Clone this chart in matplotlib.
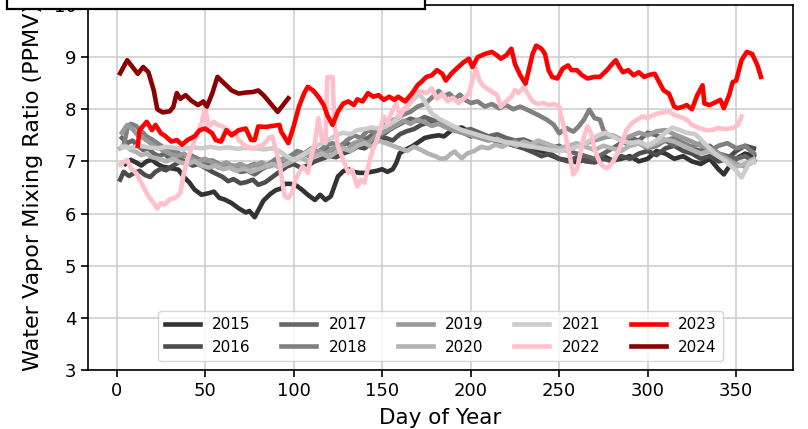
import matplotlib
matplotlib.use("Agg")
import matplotlib.pyplot as plt
from matplotlib.patches import Rectangle

# (day of year, water vapor mixing ratio in ppmv), smoothed daily series
y2015 = [(5, 6.95), (8, 7.03), (11, 6.98), (14, 6.92), (17, 7.00), (20, 7.03), (23, 6.95), (26, 6.90),
         (29, 6.88), (32, 6.86), (35, 6.84), (38, 6.70), (41, 6.60), (44, 6.46), (48, 6.36), (52, 6.39),
         (55, 6.42), (58, 6.30), (61, 6.27), (65, 6.20), (69, 6.10), (73, 6.02), (75, 6.05), (78, 5.93),
         (80, 6.06), (83, 6.25), (87, 6.38), (90, 6.45), (93, 6.48), (95, 6.57), (98, 6.57), (101, 6.55),
         (105, 6.45), (108, 6.36), (112, 6.26), (115, 6.36), (118, 6.26), (121, 6.33), (123, 6.52),
         (125, 6.71), (128, 6.81), (131, 6.85), (134, 6.80), (137, 6.78), (140, 6.78), (144, 6.80),
         (147, 6.82), (150, 6.85), (153, 6.80), (156, 6.85), (158, 6.97), (160, 7.16), (163, 7.22),
         (167, 7.29), (171, 7.38), (174, 7.45), (178, 7.48), (182, 7.50), (185, 7.48), (190, 7.62),
         (195, 7.65), (200, 7.55), (205, 7.50), (210, 7.45), (215, 7.40), (220, 7.38), (225, 7.30),
         (230, 7.32), (235, 7.25), (240, 7.20), (245, 7.12), (250, 7.05), (255, 7.02), (260, 6.98),
         (265, 7.05), (270, 7.00), (275, 7.10), (280, 7.02), (285, 7.05), (290, 7.10), (295, 7.00),
         (300, 7.05), (305, 7.20), (310, 7.15), (315, 7.05), (320, 7.10), (325, 7.00), (330, 6.95),
         (335, 7.05), (340, 6.85), (343, 6.75), (346, 6.90), (350, 7.05), (355, 7.15), (360, 7.10)]

y2016 = [(2, 6.65), (4, 6.80), (7, 6.72), (10, 6.78), (13, 6.82), (16, 6.74), (19, 6.70), (22, 6.80),
         (25, 6.86), (28, 6.83), (31, 6.90), (34, 6.96), (37, 7.02), (40, 6.98), (43, 6.92), (46, 6.95),
         (50, 6.88), (54, 6.80), (57, 6.75), (60, 6.70), (63, 6.62), (66, 6.66), (70, 6.58), (73, 6.60),
         (77, 6.65), (80, 6.55), (84, 6.60), (88, 6.70), (92, 6.80), (96, 6.90), (100, 6.95), (104, 6.88),
         (108, 6.92), (112, 7.00), (116, 7.05), (120, 7.10), (124, 7.08), (128, 7.15), (132, 7.20),
         (136, 7.28), (140, 7.25), (144, 7.35), (148, 7.40), (152, 7.45), (156, 7.40), (160, 7.52),
         (164, 7.58), (168, 7.62), (172, 7.70), (176, 7.75), (180, 7.78), (184, 7.72), (188, 7.66),
         (192, 7.60), (196, 7.55), (200, 7.48), (205, 7.52), (210, 7.45), (215, 7.38), (220, 7.35),
         (225, 7.30), (230, 7.25), (235, 7.18), (240, 7.10), (245, 7.15), (250, 7.05), (255, 7.00),
         (260, 7.08), (265, 7.00), (270, 6.98), (275, 7.05), (280, 7.00), (285, 7.10), (290, 7.05),
         (295, 7.15), (300, 7.20), (305, 7.12), (310, 7.25), (315, 7.30), (320, 7.20), (325, 7.15),
         (330, 7.05), (335, 7.10), (340, 7.00), (345, 7.05), (350, 7.20), (355, 7.30), (360, 7.25)]

y2017 = [(3, 7.45), (6, 7.35), (9, 7.40), (12, 7.30), (15, 7.22), (18, 7.25), (21, 7.15), (24, 7.10),
         (27, 7.15), (30, 7.05), (34, 7.08), (38, 7.00), (42, 6.95), (46, 7.02), (50, 6.92), (54, 6.95),
         (58, 6.88), (62, 6.92), (66, 6.85), (70, 6.80), (74, 6.82), (78, 6.75), (82, 6.85), (86, 6.92),
         (90, 6.98), (94, 7.05), (98, 7.00), (102, 7.10), (106, 7.15), (110, 7.08), (114, 7.18),
         (118, 7.25), (122, 7.20), (126, 7.30), (130, 7.35), (134, 7.28), (138, 7.40), (142, 7.45),
         (146, 7.55), (150, 7.50), (154, 7.60), (158, 7.68), (162, 7.75), (166, 7.82), (170, 7.78),
         (174, 7.85), (178, 7.80), (182, 7.72), (186, 7.70), (190, 7.65), (195, 7.58), (200, 7.62),
         (205, 7.55), (210, 7.48), (215, 7.52), (220, 7.45), (225, 7.40), (230, 7.42), (235, 7.35),
         (240, 7.30), (245, 7.25), (250, 7.30), (255, 7.20), (260, 7.15), (265, 7.10), (270, 7.05),
         (275, 7.15), (280, 7.25), (285, 7.35), (290, 7.45), (295, 7.40), (300, 7.55), (305, 7.50),
         (310, 7.40), (315, 7.30), (320, 7.35), (325, 7.25), (330, 7.20), (335, 7.30), (340, 7.15),
         (345, 7.10), (350, 7.05), (355, 7.10), (360, 7.00)]

y2018 = [(4, 7.30), (6, 7.62), (8, 7.72), (11, 7.68), (14, 7.58), (17, 7.48), (20, 7.42), (23, 7.35),
         (26, 7.28), (30, 7.22), (34, 7.18), (38, 7.10), (42, 7.12), (46, 7.05), (50, 7.00), (54, 7.02),
         (58, 6.95), (62, 6.90), (66, 6.92), (70, 6.85), (74, 6.90), (78, 6.95), (82, 6.88), (86, 6.95),
         (90, 7.05), (94, 7.00), (98, 7.10), (102, 7.20), (106, 7.15), (110, 7.25), (114, 7.18),
         (118, 7.30), (122, 7.35), (126, 7.28), (130, 7.40), (134, 7.50), (138, 7.45), (142, 7.60),
         (146, 7.55), (150, 7.68), (154, 7.75), (158, 7.82), (162, 7.90), (166, 7.95), (170, 8.05),
         (174, 8.10), (178, 8.22), (182, 8.35), (185, 8.25), (188, 8.30), (191, 8.20), (194, 8.28),
         (197, 8.18), (200, 8.12), (204, 8.15), (208, 8.05), (212, 8.10), (216, 8.02), (220, 8.08),
         (224, 8.00), (228, 8.05), (232, 7.99), (238, 7.89), (243, 7.80), (247, 7.70), (250, 7.54),
         (254, 7.64), (258, 7.57), (261, 7.67), (264, 7.80), (267, 7.99), (270, 7.83), (273, 7.80),
         (275, 7.60), (278, 7.48), (281, 7.48), (285, 7.40), (290, 7.30), (295, 7.35), (300, 7.25),
         (305, 7.30), (310, 7.40), (315, 7.45), (320, 7.35), (325, 7.28), (330, 7.35), (335, 7.20),
         (340, 7.30), (345, 7.35), (350, 7.25), (355, 7.30), (360, 7.15)]

y2019 = [(3, 7.55), (6, 7.70), (9, 7.62), (12, 7.50), (15, 7.45), (18, 7.38), (21, 7.30), (24, 7.25),
         (27, 7.20), (30, 7.15), (34, 7.10), (38, 7.15), (42, 7.05), (46, 7.00), (50, 7.05), (54, 6.98),
         (58, 6.92), (62, 6.98), (66, 6.90), (70, 6.95), (74, 6.88), (78, 6.92), (82, 6.98), (86, 6.90),
         (90, 6.95), (94, 7.05), (98, 7.00), (102, 7.08), (106, 7.15), (110, 7.10), (114, 7.20),
         (118, 7.15), (122, 7.25), (126, 7.30), (130, 7.22), (134, 7.35), (138, 7.40), (142, 7.35),
         (146, 7.48), (150, 7.55), (154, 7.62), (158, 7.70), (162, 7.78), (166, 7.72), (170, 7.80),
         (174, 7.75), (178, 7.68), (182, 7.72), (186, 7.65), (190, 7.60), (195, 7.55), (200, 7.50),
         (205, 7.45), (210, 7.40), (215, 7.42), (220, 7.35), (225, 7.38), (230, 7.30), (235, 7.28),
         (240, 7.32), (245, 7.25), (250, 7.20), (255, 7.25), (260, 7.30), (265, 7.35), (270, 7.40),
         (275, 7.45), (280, 7.50), (285, 7.42), (290, 7.48), (295, 7.55), (300, 7.50), (305, 7.58),
         (310, 7.60), (315, 7.52), (320, 7.45), (325, 7.38), (330, 7.30), (335, 7.25), (340, 7.15),
         (345, 7.05), (350, 6.95), (355, 6.90), (360, 7.00)]

y2020 = [(2, 7.25), (5, 7.30), (8, 7.22), (11, 7.18), (14, 7.12), (17, 7.15), (20, 7.08), (24, 7.05),
         (28, 7.00), (32, 7.05), (36, 6.98), (40, 6.95), (44, 7.00), (48, 6.92), (52, 6.88), (56, 6.92),
         (60, 6.85), (64, 6.88), (68, 6.82), (72, 6.86), (76, 6.80), (80, 6.85), (84, 6.90), (88, 6.95),
         (92, 6.88), (96, 6.95), (100, 7.02), (104, 7.08), (108, 7.00), (112, 7.10), (116, 7.15),
         (120, 7.08), (124, 7.18), (128, 7.25), (132, 7.20), (136, 7.30), (140, 7.35), (144, 7.28),
         (148, 7.40), (152, 7.35), (156, 7.30), (160, 7.25), (164, 7.20), (168, 7.28), (172, 7.22),
         (176, 7.15), (180, 7.10), (183, 7.05), (186, 7.06), (189, 7.15), (191, 7.19), (193, 7.12),
         (195, 7.06), (198, 7.15), (202, 7.20), (206, 7.28), (210, 7.25), (214, 7.32), (218, 7.28),
         (222, 7.35), (226, 7.30), (230, 7.38), (234, 7.32), (238, 7.40), (242, 7.35), (246, 7.30),
         (250, 7.25), (255, 7.30), (260, 7.35), (265, 7.28), (270, 7.22), (275, 7.30), (280, 7.25),
         (285, 7.20), (290, 7.30), (295, 7.35), (300, 7.28), (305, 7.35), (310, 7.42), (315, 7.38),
         (320, 7.30), (325, 7.22), (330, 7.15), (335, 7.20), (340, 7.10), (345, 7.02), (350, 6.90),
         (355, 6.95), (360, 7.05)]

y2021 = [(3, 7.28), (8, 7.26), (13, 7.30), (18, 7.27), (23, 7.25), (28, 7.28), (33, 7.26), (38, 7.24),
         (43, 7.27), (48, 7.25), (53, 7.28), (58, 7.25), (63, 7.27), (68, 7.24), (73, 7.26), (78, 7.25),
         (83, 7.23), (88, 7.25), (92, 7.20), (96, 7.10), (100, 7.03), (104, 7.10), (108, 7.18),
         (112, 7.28), (116, 7.35), (120, 7.42), (124, 7.50), (128, 7.55), (132, 7.52), (136, 7.60),
         (140, 7.62), (144, 7.65), (148, 7.63), (152, 7.67), (156, 7.75), (160, 7.90), (164, 8.05),
         (168, 8.20), (171, 8.30), (174, 8.15), (178, 7.92), (182, 7.82), (186, 7.75), (190, 7.68),
         (195, 7.60), (200, 7.55), (205, 7.50), (210, 7.45), (215, 7.41), (220, 7.37), (225, 7.34),
         (230, 7.31), (235, 7.28), (240, 7.25), (245, 7.22), (250, 7.20), (255, 7.22), (260, 7.28),
         (265, 7.35), (268, 7.42), (272, 7.50), (276, 7.55), (280, 7.48), (285, 7.40), (290, 7.35),
         (295, 7.38), (300, 7.30), (305, 7.40), (310, 7.55), (314, 7.65), (318, 7.60), (322, 7.55),
         (327, 7.52), (332, 7.35), (338, 7.15), (344, 7.00), (350, 6.82), (353, 6.69), (357, 6.95),
         (360, 7.00)]

y2022 = [(2, 6.94), (6, 7.03), (8, 6.87), (11, 6.78), (15, 6.52), (18, 6.33), (21, 6.20), (23, 6.10),
         (25, 6.20), (27, 6.17), (30, 6.27), (33, 6.30), (36, 6.39), (38, 6.78), (40, 7.03), (42, 7.22),
         (45, 7.48), (48, 7.73), (50, 8.05), (52, 7.67), (55, 7.76), (57, 7.70), (60, 7.67), (63, 7.60),
         (67, 7.54), (69, 7.41), (73, 7.29), (77, 7.25), (80, 7.29), (83, 7.32), (86, 7.45), (88, 7.48),
         (90, 7.22), (92, 6.97), (94, 6.52), (95, 6.33), (97, 6.30), (99, 6.39), (101, 6.65), (103, 6.78),
         (105, 6.90), (107, 6.84), (108, 6.78), (110, 7.10), (112, 7.35), (114, 7.83), (116, 7.41),
         (118, 7.35), (119, 8.62), (122, 8.62), (123, 7.73), (125, 7.29), (128, 7.03), (131, 6.78),
         (133, 6.84), (136, 6.52), (138, 6.65), (140, 6.59), (143, 7.03), (145, 7.25), (147, 7.41),
         (149, 7.63), (151, 7.86), (153, 7.73), (156, 7.99), (158, 8.11), (160, 7.86), (162, 7.99),
         (166, 8.15), (169, 8.31), (172, 8.34), (175, 8.31), (178, 8.40), (181, 8.20), (184, 8.30),
         (187, 8.15), (190, 8.22), (193, 8.12), (196, 8.20), (199, 8.30), (201, 8.55), (203, 8.78),
         (205, 8.55), (207, 8.45), (209, 8.40), (212, 8.34), (215, 8.27), (217, 8.05), (220, 8.15),
         (223, 8.24), (225, 8.37), (227, 8.31), (230, 8.43), (232, 8.31), (235, 8.15), (238, 8.10),
         (241, 8.12), (244, 8.08), (247, 8.10), (250, 8.05), (253, 7.60), (256, 7.10), (258, 6.75),
         (260, 6.84), (262, 7.16), (264, 7.48), (266, 7.67), (268, 7.54), (270, 7.22), (273, 6.97),
         (275, 6.90), (277, 6.87), (280, 6.97), (283, 7.16), (286, 7.41), (288, 7.60), (291, 7.73),
         (294, 7.80), (297, 7.86), (300, 7.83), (303, 7.89), (306, 7.92), (309, 7.94), (312, 7.96),
         (315, 7.89), (318, 7.86), (322, 7.80), (325, 7.70), (329, 7.64), (333, 7.60), (336, 7.60),
         (340, 7.64), (344, 7.62), (348, 7.64), (351, 7.70), (353, 7.86)]

y2023 = [(12, 7.30), (13, 7.60), (17, 7.76), (20, 7.60), (22, 7.70), (25, 7.54), (27, 7.50), (31, 7.38),
         (34, 7.41), (37, 7.32), (40, 7.41), (44, 7.48), (47, 7.60), (50, 7.63), (54, 7.54), (56, 7.41),
         (59, 7.38), (62, 7.60), (65, 7.50), (69, 7.60), (73, 7.63), (76, 7.41), (78, 7.41), (80, 7.67),
         (84, 7.66), (88, 7.68), (92, 7.70), (93, 7.57), (97, 7.35), (100, 7.67), (103, 8.05),
         (106, 8.31), (108, 8.43), (111, 8.36), (114, 8.24), (117, 8.08), (119, 7.89), (122, 7.70),
         (125, 7.95), (128, 8.11), (131, 8.15), (134, 8.08), (136, 8.19), (139, 8.15), (142, 8.31),
         (145, 8.24), (148, 8.27), (151, 8.18), (154, 8.24), (157, 8.18), (159, 8.24), (163, 8.15),
         (167, 8.31), (170, 8.46), (172, 8.52), (175, 8.62), (178, 8.65), (181, 8.75), (184, 8.68),
         (186, 8.55), (189, 8.68), (193, 8.81), (196, 8.90), (199, 8.97), (201, 8.81), (204, 9.00),
         (208, 9.06), (212, 9.10), (215, 9.03), (217, 8.97), (220, 9.03), (223, 9.16), (225, 8.87),
         (228, 8.65), (231, 8.49), (235, 9.06), (237, 9.22), (240, 9.16), (242, 9.06), (244, 8.75),
         (246, 8.62), (249, 8.59), (252, 8.78), (255, 8.84), (257, 8.75), (260, 8.75), (263, 8.65),
         (266, 8.59), (270, 8.62), (273, 8.62), (277, 8.75), (280, 8.87), (282, 8.94), (284, 8.81),
         (286, 8.71), (289, 8.75), (292, 8.65), (295, 8.71), (298, 8.62), (301, 8.66), (304, 8.68),
         (306, 8.55), (309, 8.36), (312, 8.30), (315, 8.05), (317, 8.02), (320, 8.05), (322, 8.08),
         (325, 8.00), (328, 8.27), (331, 8.46), (332, 8.11), (335, 8.08), (338, 8.13), (341, 8.18),
         (343, 8.02), (346, 8.27), (348, 8.52), (350, 8.55), (353, 8.94), (356, 9.10), (359, 9.06),
         (362, 8.84), (364, 8.62)]

y2024 = [(2, 8.69), (6, 8.94), (9, 8.81), (12, 8.68), (15, 8.81), (18, 8.71), (21, 8.36), (23, 8.00),
         (26, 7.94), (30, 7.96), (32, 8.04), (34, 8.31), (36, 8.20), (39, 8.27), (42, 8.17), (46, 8.08),
         (49, 8.15), (51, 8.05), (54, 8.30), (57, 8.62), (61, 8.49), (65, 8.36), (69, 8.30), (73, 8.32),
         (77, 8.33), (80, 8.36), (83, 8.27), (87, 8.11), (91, 7.95), (94, 8.08), (97, 8.21)]

years = ["2015", "2016", "2017", "2018", "2019", "2020", "2021", "2022", "2023", "2024"]
series = [y2015, y2016, y2017, y2018, y2019, y2020, y2021, y2022, y2023, y2024]
colors = ["#333333", "#4d4d4d", "#666666", "#808080", "#999999", "#b3b3b3", "#cccccc",
          "pink", "red", "darkred"]

fig = plt.figure(figsize=(8.08, 4.29), dpi=100)
ax = fig.add_axes([0.109, 0.1375, 0.8725, 0.851])

for year, data, col in zip(years, series, colors):
    days = [d for d, _ in data]
    vals = [v for _, v in data]
    ax.plot(days, vals, color=col, lw=3.3, label=year)

ax.set_ylim(3, 10)
ax.set_xticks(range(0, 351, 50))
ax.grid(True, color="#cccccc", lw=1.1)
ax.tick_params(labelsize=13, length=5, width=1.2)
for sp in ax.spines.values():
    sp.set_linewidth(1.2)

ax.set_xlabel("Day of Year", fontsize=15.5, labelpad=6)
ax.set_ylabel("Water Vapor Mixing Ratio (PPMV)", fontsize=16, labelpad=8)

ax.legend(loc="lower center", ncol=5, fontsize=11, handlelength=2.3,
          columnspacing=2.0, borderaxespad=0.6)

# boxed header strip across the top-left corner
fig.patches.append(Rectangle((7 / 808, 1 - 9 / 429), 418 / 808, 0.2,
                             transform=fig.transFigure, facecolor="white",
                             edgecolor="black", lw=1.6, zorder=5))

fig.savefig("out.png", dpi=100)
